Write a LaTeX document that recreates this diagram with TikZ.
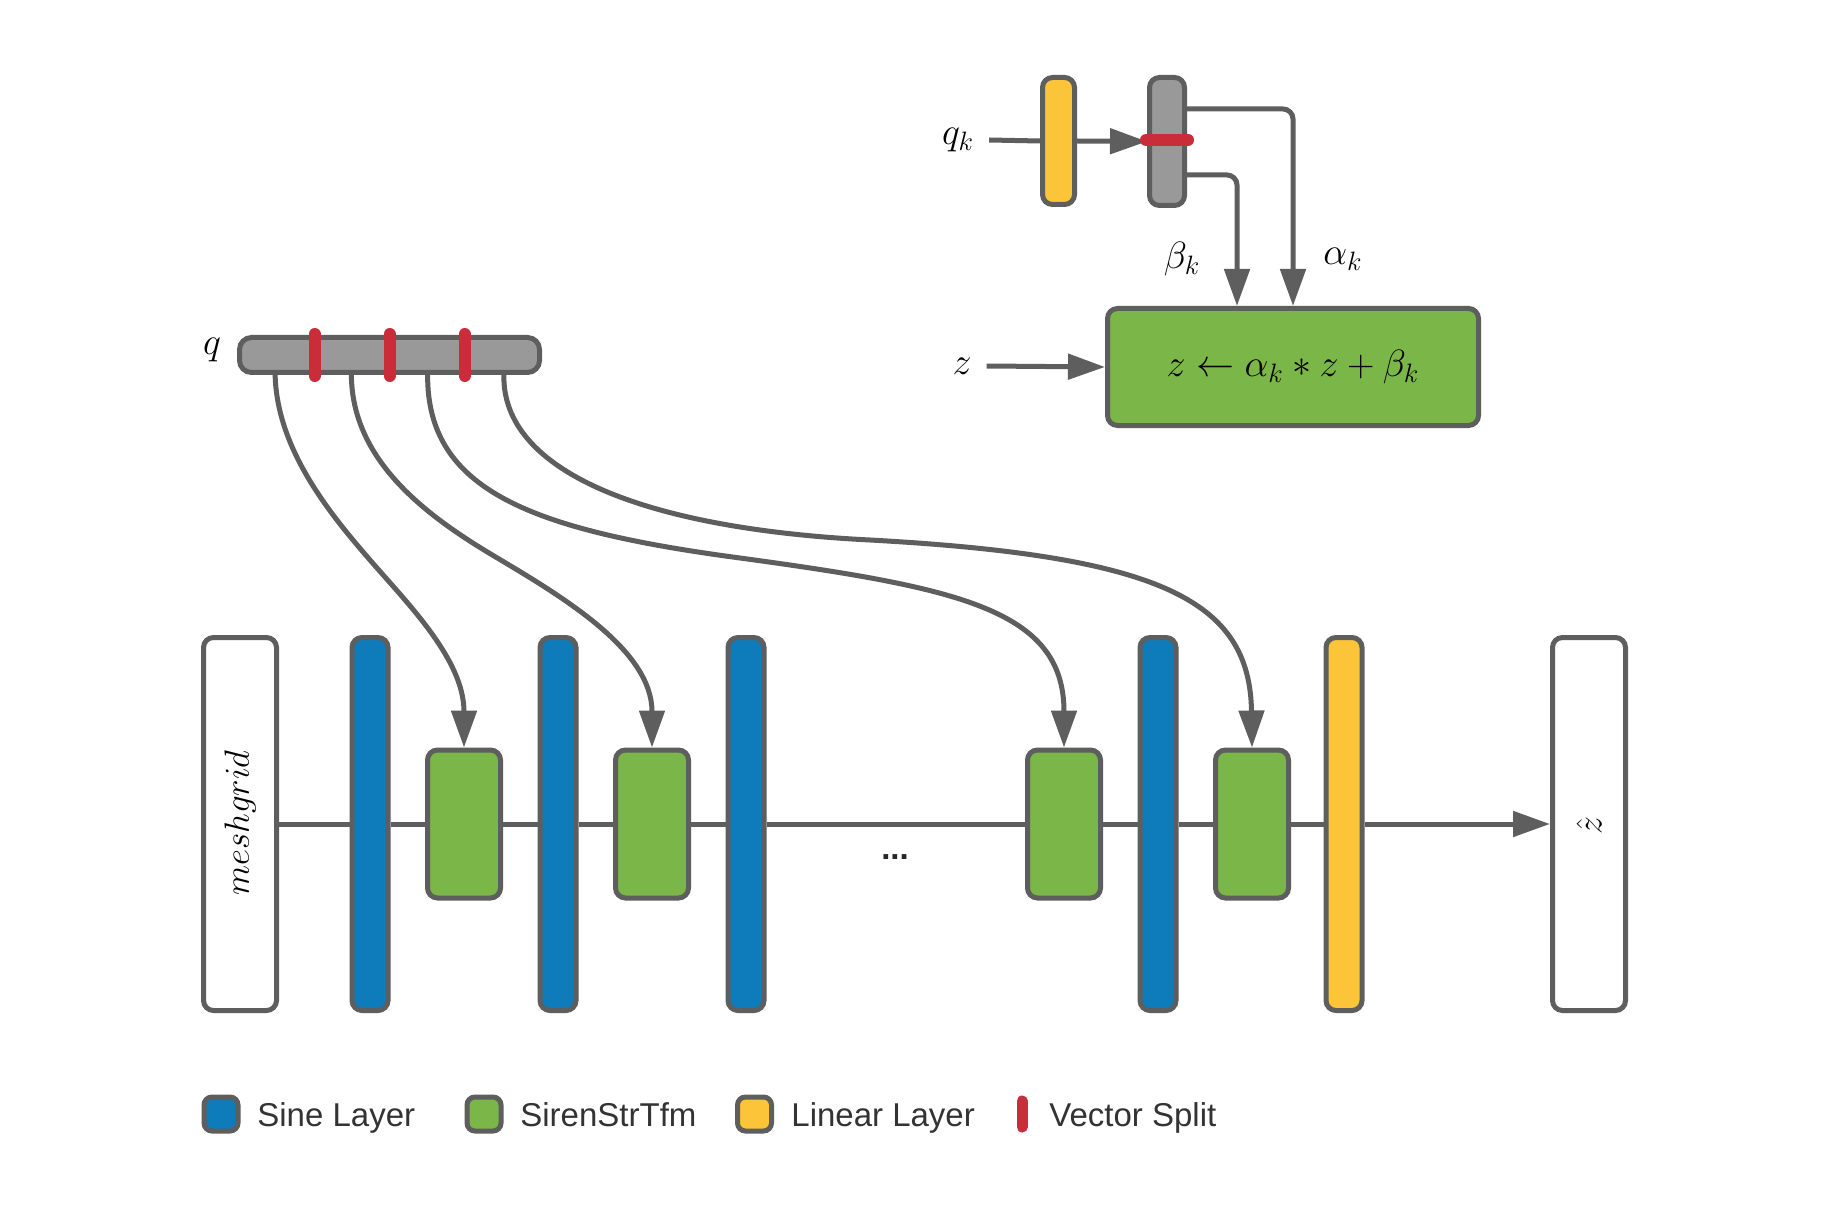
\RequirePackage{fix-cm}
\documentclass[tikz,border=0pt]{standalone}
\usepackage{fontspec}
\setmainfont{Liberation Sans}
\usetikzlibrary{arrows.meta,calc}
\definecolor{edge}{HTML}{5E5E5E}
\definecolor{sineblue}{HTML}{0E7BBA}
\definecolor{tfmgreen}{HTML}{7AB648}
\definecolor{linyellow}{HTML}{FCC438}
\definecolor{splitred}{HTML}{C92D39}
\definecolor{qgray}{HTML}{999999}
\definecolor{legtext}{HTML}{333333}
\begin{document}
\begin{tikzpicture}[x=0.5pt,y=-0.5pt,
  box/.style={draw=edge,line width=2.5pt,rounded corners=5pt,inner sep=0pt},
  bar/.style={box,minimum width=18pt,minimum height=186.5pt},
  sine/.style={bar,fill=sineblue},
  lin/.style={bar,fill=linyellow},
  tfm/.style={box,fill=tfmgreen,minimum width=36.5pt,minimum height=74pt},
  io/.style={box,fill=white,minimum width=36.5pt,minimum height=186.5pt},
  link/.style={draw=edge,line width=2.5pt},
  arr/.style={link,-{Triangle[length=18.5pt,width=12.5pt]}},
  split/.style={draw=splitred,line width=6pt,line cap=round},
  mlabel/.style={font=\fontsize{19}{23}\selectfont},
  legend/.style={font=\fontsize{16.5}{20}\selectfont,text=legtext,anchor=base west,inner sep=0pt},
  legbox/.style={draw=edge,line width=2.5pt,rounded corners=4pt,minimum size=17pt,inner sep=0pt}
]
\useasboundingbox[fill=white] (0,0) rectangle (1830,1219);

% ---------- main row ----------
\node[io] (mesh) at (240,824) {};
\node[rotate=90,font=\fontsize{17.5}{21}\selectfont] (meshtxt) at (240,823) {$meshgrid$};
\node[sine] (b1) at (370,824) {};
\node[tfm] (g1) at (464,824) {};
\node[sine] (b2) at (558,824) {};
\node[tfm] (g2) at (652,824) {};
\node[sine] (b3) at (746,824) {};
\node[tfm] (g3) at (1064,824) {};
\node[sine] (b4) at (1158,824) {};
\node[tfm] (g4) at (1252,824) {};
\node[lin] (y1) at (1344,824) {};
\node[io] (zhat) at (1589,824) {};
\node[rotate=90,font=\fontsize{18}{21}\selectfont] (zhattxt) at (1589,826) {$\hat{z}$};
\node[anchor=base,font=\fontsize{16.5}{20}\selectfont\bfseries,text=black!85] (dots) at (895,859) {...};

\draw[link] (mesh.east) -- (b1.west);
\draw[link] (b1.east) -- (g1.west);
\draw[link] (g1.east) -- (b2.west);
\draw[link] (b2.east) -- (g2.west);
\draw[link] (g2.east) -- (b3.west);
\draw[link] (b3.east) -- (g3.west);
\draw[link] (g3.east) -- (b4.west);
\draw[link] (b4.east) -- (g4.west);
\draw[link] (g4.east) -- (y1.west);
\draw[arr] (y1.east) -- (zhat.west);

% ---------- q vector ----------
\node[mlabel] (qlabel) at (212,350) {$q$};
\node[box,fill=qgray,minimum width=150pt,minimum height=17.5pt,rounded corners=6pt] (q) at (389.5,355) {};
\draw[split] (314.5,334) -- (314.5,376);
\draw[split] (389.5,334) -- (389.5,376);
\draw[split] (464.5,334) -- (464.5,376);
\coordinate (s1) at ($(q.south west)!0.125!(q.south east)$);
\coordinate (s2) at ($(q.south west)!0.375!(q.south east)$);
\coordinate (s3) at ($(q.south west)!0.625!(q.south east)$);
\coordinate (s4) at ($(q.south west)!0.875!(q.south east)$);
\coordinate (m1) at (370,560);
\coordinate (m2) at (494,556);
\coordinate (m3) at (740,558);
\coordinate (m4) at (870,540);

\draw[arr] (s1) .. controls (277,450) and (331,515) .. (m1)
                .. controls (409,605) and (464,660) .. (g1.north);
\draw[arr] (s2) .. controls (352,460) and (425,515) .. (m2)
                .. controls (563,597) and (652,650) .. (g2.north);
\draw[arr] (s3) .. controls (427,490) and (530,530) .. (m3)
                .. controls (960,588) and (1064,610) .. (g3.north);
\draw[arr] (s4) .. controls (502,470) and (640,528.5) .. (m4)
                .. controls (1160,556) and (1250,600) .. (g4.north);

% ---------- top right detail ----------
\node[mlabel] (qk) at (958,140) {$q_k$};
\node[box,fill=linyellow,minimum width=16pt,minimum height=63.5pt] (ly) at (1058.5,141) {};
\node[box,fill=qgray,minimum width=17.5pt,minimum height=64pt] (sg) at (1167,141.5) {};
\node[box,fill=tfmgreen,minimum width=185.5pt,minimum height=58.5pt,mlabel] (big) at (1293,367) {$z \leftarrow \alpha_k * z + \beta_k$};
\node[mlabel] (zl) at (962,366) {$z$};
\node[mlabel] (beta) at (1182,259) {$\beta_k$};
\node[mlabel] (alpha) at (1343,259) {$\alpha_k$};

\draw[link] ([xshift=4pt]qk.east) -- (ly.west);
\draw[arr] (ly.east) -- (sg.west);
\draw[split] (1146,140) -- (1188,140);
\draw[arr,rounded corners=5pt] ([yshift=16.25pt]sg.east) -| (big.north);
\draw[arr,rounded corners=5pt] ([yshift=-16.75pt]sg.east) -| ([xshift=-28pt]big.north);
\draw[arr] ([xshift=4pt]zl.east) -- (big.west);

% ---------- legend ----------
\node[legbox,fill=sineblue] (l1) at (221,1114) {};
\node[legend] (l1t) at (257,1126) {Sine Layer};
\node[legbox,fill=tfmgreen] (l2) at (484,1114) {};
\node[legend] (l2t) at (520,1126) {SirenStrTfm};
\node[legbox,fill=linyellow] (l3) at (754.5,1114) {};
\node[legend] (l3t) at (791,1126) {Linear Layer};
\draw[draw=splitred,line width=5.5pt,line cap=round] (1022,1101) -- (1022,1127);
\node[legend] (l4t) at (1049,1126) {Vector Split};
\end{tikzpicture}
\end{document}
